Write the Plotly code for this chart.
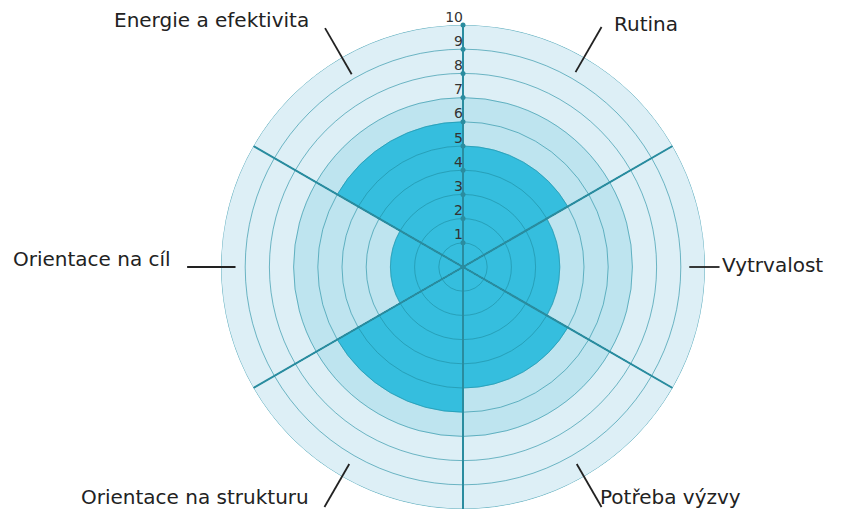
import math
import plotly.graph_objects as go

# ---- data ----
categories = ["Rutina", "Vytrvalost", "Potřeba výzvy", "Orientace na strukturu",
              "Orientace na cíl", "Energie a efektivita"]
sector_theta = [30, 90, 150, 210, 270, 330]
sector_width = [60, 60, 60, 60, 60, 60]
boundary_theta = [0, 60, 120, 180, 240, 300]
outer_values = [10, 10, 10, 10, 10, 10]
norm_values = [7, 7, 7, 7, 7, 7]
score_values = [5, 4, 5, 6, 3, 6]
radial_ticks = [1, 2, 3, 4, 5, 6, 7, 8, 9, 10]
radial_tick_labels = ["1", "2", "3", "4", "5", "6", "7", "8", "9", "10"]

# label placement in polar terms (radius in axis units, angle in degrees clockwise from top)
label_r = [11.78, 10.62, 11.02, 11.39, 11.99, 11.98]
label_theta = [31.52, 89.55, 149.6, 213.5, 271.6, 328.4]
label_xanchor = ["left", "left", "left", "right", "right", "right"]
leader_inner = [9.3, 9.35, 9.4, 9.4, 9.4, 9.2]
leader_outer = [11.45, 10.6, 11.45, 11.45, 11.4, 11.4]

C_LIGHT = "#DDEFF6"
C_MED = "#BEE4EF"
C_DARK = "#35BEDE"
C_GRID = "rgba(30,140,160,0.6)"
C_SPOKE = "#2A8C9F"
FONT = "Verdana, DejaVu Sans, sans-serif"

W, H = 857, 518
# polar geometry (figure pixels); page has an 8px body offset
CX, CY, RADIUS = 455, 259, 242
R_MAX = 10
dom_x = [(CX - RADIUS) / W, (CX + RADIUS) / W]
dom_y = [(H - CY - RADIUS) / H, (H - CY + RADIUS) / H]
unit = RADIUS / R_MAX


def to_paper(r, theta):
    t = math.radians(theta)
    return (CX + r * unit * math.sin(t)) / W, (H - CY + r * unit * math.cos(t)) / H


fig = go.Figure()
for vals, col in [(outer_values, C_LIGHT), (norm_values, C_MED), (score_values, C_DARK)]:
    fig.add_trace(go.Barpolar(r=vals, theta=sector_theta, width=sector_width,
                              marker=dict(color=col, line=dict(color=col, width=0.5)),
                              hoverinfo="skip", showlegend=False))

# concentric grid rings drawn above the fills
for k in radial_ticks:
    fig.add_trace(go.Barpolar(r=[k] * 6, theta=sector_theta, width=sector_width,
                              marker=dict(color="rgba(0,0,0,0)", line=dict(color=C_GRID, width=1)),
                              hoverinfo="skip", showlegend=False))

# spokes at sector boundaries
spoke_r, spoke_t = [], []
for a in boundary_theta:
    spoke_r += [0, R_MAX, None]
    spoke_t += [a, a, None]
fig.add_trace(go.Scatterpolar(r=spoke_r, theta=spoke_t, mode="lines",
                              line=dict(color=C_SPOKE, width=2),
                              hoverinfo="skip", showlegend=False))

# tick dots on the radial axis
fig.add_trace(go.Scatterpolar(r=radial_ticks, theta=[0] * len(radial_ticks), mode="markers",
                              marker=dict(color=C_SPOKE, size=5),
                              cliponaxis=False, hoverinfo="skip", showlegend=False))
# tick labels
fig.add_trace(go.Scatterpolar(r=radial_ticks, theta=[0] * len(radial_ticks), mode="text",
                              text=radial_tick_labels, textposition="top left",
                              textfont=dict(family=FONT, size=14, color="#333333"),
                              cliponaxis=False, hoverinfo="skip", showlegend=False))

# category labels and leader lines
annotations, shapes = [], []
for i, name in enumerate(categories):
    x, y = to_paper(label_r[i], label_theta[i])
    annotations.append(dict(x=x, y=y, xref="paper", yref="paper", text=name, showarrow=False,
                            xanchor=label_xanchor[i], yanchor="middle",
                            font=dict(family=FONT, size=20, color="#222222")))
    x0, y0 = to_paper(leader_inner[i], sector_theta[i])
    x1, y1 = to_paper(leader_outer[i], sector_theta[i])
    shapes.append(dict(type="line", xref="paper", yref="paper", x0=x0, y0=y0, x1=x1, y1=y1,
                       line=dict(color="#222222", width=1.8)))

fig.update_layout(
    width=W, height=H,
    margin=dict(l=0, r=0, t=0, b=0),
    paper_bgcolor="white",
    font=dict(family=FONT),
    annotations=annotations,
    shapes=shapes,
    polar=dict(
        domain=dict(x=dom_x, y=dom_y),
        barmode="overlay",
        bgcolor="white",
        angularaxis=dict(direction="clockwise", rotation=90,
                         showticklabels=False, ticks="", showgrid=False, showline=False),
        radialaxis=dict(range=[0, R_MAX], showticklabels=False, ticks="",
                        showgrid=False, showline=False),
    ),
)

fig.write_html("out.html")
